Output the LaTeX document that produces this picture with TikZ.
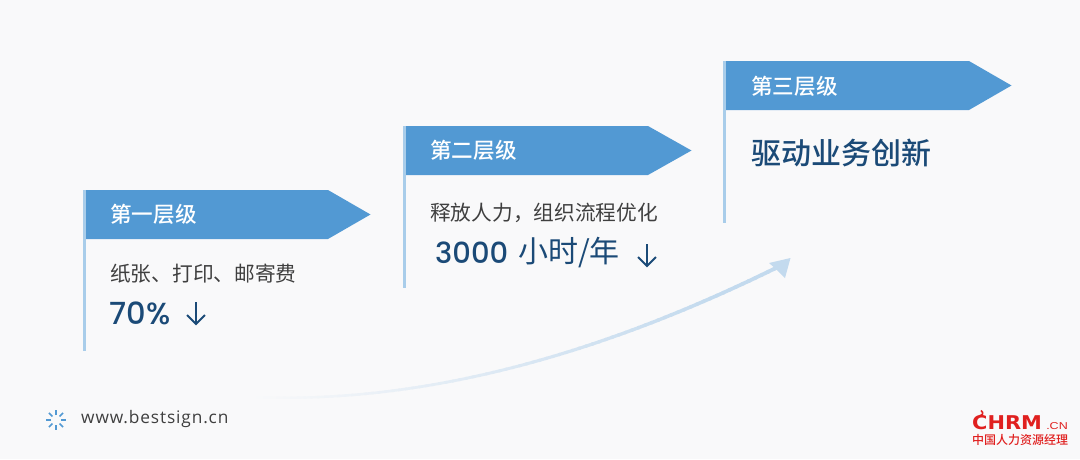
\documentclass[tikz,border=0pt]{standalone}
\usepackage{fontspec}
\setmainfont{Open Sans}
\newfontfamily\cjk{Noto Sans CJK SC}
\newfontfamily\cjkm{Noto Sans CJK SC Medium}
\newfontfamily\latn{Poppins Medium}
\newfontfamily\urlfont[LetterSpace=5]{Open Sans}
\newfontfamily\logofont{DejaVu Sans}
\newfontfamily\logosub{Liberation Sans}
\definecolor{bgc}{HTML}{F9F9FA}
\definecolor{bannerc}{HTML}{5299D3}
\definecolor{polec}{HTML}{A9CDEA}
\definecolor{navyc}{HTML}{1B4A77}
\definecolor{greyc}{HTML}{3F3F3F}
\definecolor{arrowc}{HTML}{C3DAEE}
\definecolor{redc}{HTML}{E0201F}
\tikzset{
  pole/.style={fill=polec,draw=none},
  banner/.style={fill=bannerc,draw=none},
  head/.style={anchor=west,inner sep=0pt,text=white,font=\cjkm\fontsize{21.6}{24}\selectfont},
  body/.style={anchor=west,inner sep=0pt,text=greyc,font=\cjk\fontsize{20.7}{24}\selectfont},
  big/.style={anchor=west,inner sep=0pt,text=navyc,font=\latn\fontsize{29}{34}\selectfont},
  bigcjk/.style={anchor=west,inner sep=0pt,text=navyc,font=\cjkm\fontsize{30}{34}\selectfont},
  tick/.style={draw=bannerc,line width=1.5pt}
}
\newcommand{\downarrowmark}[2]{%
  \draw[navyc,line width=2pt] (#1,#2-11) -- (#1,#2+11);
  \draw[navyc,line width=2pt] (#1-9,#2+2) -- (#1,#2+11) -- (#1+9,#2+2);
}
\begin{document}
\begin{tikzpicture}[x=1pt,y=-1pt]
\useasboundingbox (0,0) rectangle (1080,459);
\fill[bgc] (0,0) rectangle (1080,459);

% curved arrow, fading towards its tail
\foreach \i in {0,...,79}{
  \pgfmathsetmacro{\ta}{\i/80}
  \pgfmathsetmacro{\tb}{(\i+1.3)/80}
  \pgfmathsetmacro{\xa}{(1-\ta)^3*250+3*(1-\ta)^2*\ta*430+3*(1-\ta)*\ta^2*610+\ta^3*780}
  \pgfmathsetmacro{\ya}{(1-\ta)^3*397+3*(1-\ta)^2*\ta*405+3*(1-\ta)*\ta^2*350+\ta^3*266}
  \pgfmathsetmacro{\xb}{(1-\tb)^3*250+3*(1-\tb)^2*\tb*430+3*(1-\tb)*\tb^2*610+\tb^3*780}
  \pgfmathsetmacro{\yb}{(1-\tb)^3*397+3*(1-\tb)^2*\tb*405+3*(1-\tb)*\tb^2*350+\tb^3*266}
  \pgfmathsetmacro{\mixv}{min(100,100*\ta*1.15)}
  \pgfmathsetmacro{\lw}{2.2+1.6*\ta}
  \draw[arrowc!\mixv!bgc,line width=\lw pt] (\xa,\ya) -- (\xb,\yb);
}
\fill[arrowc] (790.5,258) -- (769,263) -- (776,269) -- (785,278) -- cycle;

% flag 1
\fill[pole] (83,190) rectangle (86,351);
\fill[banner] (86,190) -- (328,190) -- (370.5,214.5) -- (328,239) -- (86,239) -- cycle;
\node[head] (h1) at (110,214) {第一层级};
\node[body] (b1) at (110,274) {纸张、打印、邮寄费};
\node[big,font=\latn\fontsize{30.5}{34}\selectfont] (v1) at (109.5,313) {70\%};
\downarrowmark{196}{313}

% flag 2
\fill[pole] (403,126) rectangle (406,288);
\fill[banner] (406,126) -- (648,126) -- (691.5,150.5) -- (648,175) -- (406,175) -- cycle;
\node[head] (h2) at (430,150) {第二层级};
\node[body] (b2) at (430,213) {释放人力\symbol{"FF0C}组织流程优化};
\node[big] (v2) at (435,253) {3000};
\node[bigcjk,font=\cjk\fontsize{30}{34}\selectfont] (u2) at (518,253) {小时/年};
\downarrowmark{647}{255}

% flag 3
\fill[pole] (723,61) rectangle (726,223);
\fill[banner] (726,61) -- (969,61) -- (1011.5,85.5) -- (969,110) -- (726,110) -- cycle;
\node[head] (h3) at (751,86) {第三层级};
\node[bigcjk] (b3) at (751,153) {驱动业务创新};

% footer
\coordinate (sun) at (56,420);
\foreach \a in {0,45,...,315}
  \draw[tick] ([shift={(\a:5)}]sun) -- ([shift={(\a:10)}]sun);
\node[anchor=west,inner sep=0pt,text=greyc,font=\urlfont\fontsize{17.3}{20}\selectfont] (url) at (81,419) {www.bestsign.cn};

% logo
\node[anchor=west,inner sep=0pt,text=redc,xscale=1.1,font=\logofont\bfseries\fontsize{19}{22}\selectfont] (chrm) at (972,423) {CHRM};
\draw[redc,line width=1.6pt] (979,416) .. controls (983,415) and (984,413) .. (981,410.5);
\node[anchor=west,inner sep=0pt,text=redc,xscale=1.25,font=\logosub\fontsize{10}{12}\selectfont] (cn) at (1046,426) {.CN};
\node[anchor=west,inner sep=0pt,text=redc,font=\cjkm\fontsize{12}{14}\selectfont] (cname) at (972,440) {中国人力资源经理};
\end{tikzpicture}
\end{document}
